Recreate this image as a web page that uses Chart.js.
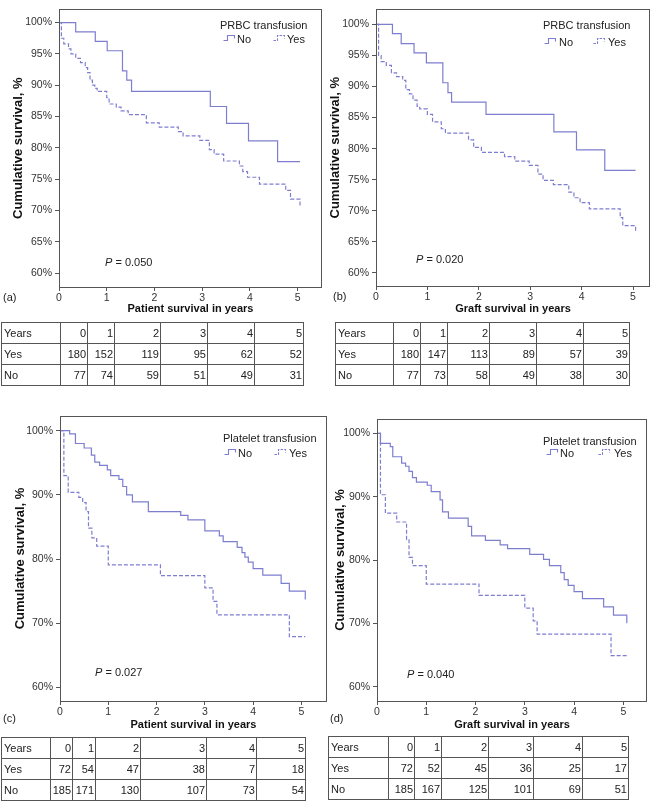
<!DOCTYPE html>
<html><head><meta charset="utf-8">
<script src="https://cdn.jsdelivr.net/npm/chart.js@4/dist/chart.umd.min.js"></script>
<style>
body{margin:0;background:#fff;}
#fig{position:relative;width:655px;height:802px;overflow:hidden;font-family:"Liberation Sans",Arial,sans-serif;color:#222;background:#fff;}
canvas{position:absolute;}
.t{position:absolute;font-size:11px;line-height:12px;white-space:nowrap;color:#222;}
svg.g{position:absolute;}
table{position:absolute;border-collapse:collapse;table-layout:fixed;font-size:11px;color:#222;}
td{border:1px solid #555;padding:0 1px 0 1px;height:20px;text-align:right;overflow:visible;white-space:nowrap;}
td:first-child{text-align:left;padding-left:2px;}
</style>
</head><body>
<div id="fig">
<canvas id="cA" width="326" height="316" style="left:0;top:0"></canvas>
<canvas id="cB" width="330" height="316" style="left:325px;top:0"></canvas>
<canvas id="cC" width="330" height="332" style="left:0;top:400px"></canvas>
<canvas id="cD" width="330" height="332" style="left:325px;top:400px"></canvas>
</div>
<script>
// ---------- data ----------
const xTicks = [0, 1, 2, 3, 4, 5];
const yTicksAB = [60, 65, 70, 75, 80, 85, 90, 95, 100];
const yTicksCD = [60, 70, 80, 90, 100];
const seriesNames = ['No', 'Yes'];
const tableYears = ['0', '1', '2', '3', '4', '5'];

// (a) PRBC transfusion, patient survival
const aNoT  = [0, 0.35, 0.76, 1.01, 1.33, 1.42, 1.52, 3.17, 3.51, 3.97, 4.58, 5.05];
const aNoS  = [100, 98.5, 97.0, 95.5, 92.3, 90.8, 89.0, 86.6, 83.9, 81.1, 77.8, 77.8];
const aYesT = [0, 0.05, 0.1, 0.2, 0.25, 0.35, 0.45, 0.55, 0.6, 0.65, 0.7, 0.75, 0.8, 1.0, 1.05, 1.2, 1.3, 1.45, 1.83, 2.1, 2.5, 2.6, 2.95, 3.15, 3.25, 3.45, 3.78, 3.85, 3.95, 4.2, 4.75, 4.85, 5.05];
const aYesS = [100, 97.5, 96.6, 95.8, 95.0, 94.3, 93.6, 92.8, 92.0, 90.8, 90.0, 89.5, 89.0, 88.0, 87.0, 86.5, 85.9, 85.3, 84.0, 83.3, 82.6, 81.9, 81.2, 79.7, 79.0, 77.9, 77.1, 76.2, 75.3, 74.2, 73.2, 71.8, 70.5];
const aRiskYes = [180, 152, 119, 95, 62, 52];
const aRiskNo  = [77, 74, 59, 51, 49, 31];

// (b) PRBC transfusion, graft survival
const bNoT  = [0, 0.32, 0.49, 0.74, 0.98, 1.30, 1.40, 1.47, 2.14, 3.46, 3.9, 4.45, 5.05];
const bNoS  = [100, 98.5, 96.9, 95.4, 93.8, 90.6, 89.0, 87.5, 85.5, 82.7, 79.8, 76.5, 76.5];
const bYesT = [0, 0.05, 0.1, 0.2, 0.3, 0.4, 0.52, 0.58, 0.65, 0.72, 0.8, 0.85, 1.0, 1.1, 1.27, 1.35, 1.8, 1.9, 2.05, 2.5, 2.7, 2.98, 3.15, 3.25, 3.45, 3.75, 3.85, 3.97, 4.15, 4.75, 4.8, 5.05];
const bYesS = [100, 95.0, 94.0, 93.4, 92.2, 91.6, 91.0, 89.5, 88.8, 87.8, 86.8, 86.4, 85.5, 84.3, 83.2, 82.5, 81.4, 80.2, 79.4, 78.7, 78.0, 77.3, 75.9, 74.9, 74.2, 73.0, 72.1, 71.3, 70.3, 68.9, 67.6, 66.5];
const bRiskYes = [180, 147, 113, 89, 57, 39];
const bRiskNo  = [77, 73, 58, 49, 38, 30];

// (c) Platelet transfusion, patient survival
const cNoT  = [0, 0.2, 0.32, 0.5, 0.65, 0.72, 0.82, 0.98, 1.05, 1.22, 1.3, 1.38, 1.5, 1.83, 2.5, 2.65, 3.0, 3.3, 3.38, 3.67, 3.77, 3.83, 3.9, 4.0, 4.2, 4.58, 4.75, 5.08];
const cNoS  = [100, 99.5, 98.0, 97.3, 96.2, 95.1, 94.6, 93.9, 93.0, 92.4, 91.3, 90.0, 88.9, 87.4, 86.8, 86.1, 84.4, 83.6, 82.7, 81.8, 81.0, 80.3, 79.5, 78.5, 77.5, 76.2, 75.0, 73.7];
const cYesT = [0, 0.08, 0.17, 0.39, 0.47, 0.54, 0.59, 0.66, 0.76, 1.0, 2.08, 3.0, 3.17, 3.25, 4.75, 5.08];
const cYesS = [100, 93.0, 90.4, 89.6, 88.8, 87.4, 84.8, 83.3, 82.0, 79.1, 77.4, 75.5, 73.4, 71.3, 67.9, 67.9];
const cRiskYes = [72, 54, 47, 38, 7, 18];
const cRiskNo  = [185, 171, 130, 107, 73, 54];

// (d) Platelet transfusion, graft survival
const dNoT  = [0, 0.07, 0.27, 0.32, 0.5, 0.58, 0.65, 0.72, 0.8, 1.02, 1.1, 1.28, 1.33, 1.45, 1.85, 1.92, 2.2, 2.5, 2.65, 3.1, 3.38, 3.5, 3.73, 3.8, 3.88, 4.0, 4.17, 4.6, 4.8, 5.07];
const dNoS  = [100, 98.4, 97.9, 96.3, 95.3, 94.8, 94.0, 93.0, 92.3, 91.8, 90.8, 89.5, 87.6, 86.6, 85.3, 83.8, 83.1, 82.4, 81.8, 80.9, 80.1, 79.1, 78.0, 76.9, 76.0, 75.0, 73.9, 72.6, 71.3, 70.0];
const dYesT = [0, 0.07, 0.17, 0.4, 0.6, 0.65, 0.72, 1.0, 2.07, 3.0, 3.17, 3.25, 4.75, 5.07];
const dYesS = [100, 90.3, 87.4, 86.0, 83.2, 80.4, 79.1, 76.2, 74.4, 72.4, 70.4, 68.3, 64.9, 64.9];
const dRiskYes = [72, 52, 45, 36, 25, 17];
const dRiskNo  = [185, 167, 125, 101, 69, 51];

// ---------- rendering ----------
const FF = '"Liberation Sans", Arial, sans-serif';
const COL = 'rgb(126,126,208)';
const fig = document.getElementById('fig');

const boxPlugin = {
  id: 'box',
  afterDraw(chart) {
    const a = chart.chartArea, ctx = chart.ctx;
    ctx.save();
    ctx.strokeStyle = '#555'; ctx.lineWidth = 1;
    ctx.strokeRect(Math.round(a.left) + 0.5, Math.round(a.top) + 0.5, Math.round(a.right - a.left) - 1, Math.round(a.bottom - a.top));
    ctx.restore();
  }
};

function pts(T, S) { return T.map((t, i) => ({ x: t, y: S[i] })); }

function km(id, P) {
  new Chart(document.getElementById(id), {
    type: 'line',
    data: { datasets: [
      { label: seriesNames[0], data: pts(P.noT, P.noS), stepped: 'before', borderColor: COL, borderWidth: 1.2, pointRadius: 0, fill: false },
      { label: seriesNames[1], data: pts(P.yesT, P.yesS), stepped: 'before', borderColor: COL, borderWidth: 1.2, borderDash: [4, 2], pointRadius: 0, fill: false }
    ]},
    options: {
      responsive: false, animation: false, devicePixelRatio: 1,
      layout: { padding: { top: P.padTop, right: P.padRight, left: 0, bottom: 0 } },
      plugins: { legend: { display: false }, tooltip: { enabled: false } },
      scales: {
        x: {
          type: 'linear', min: 0, max: P.xMax,
          afterBuildTicks: s => { s.ticks = xTicks.map(v => ({ value: v })); },
          afterFit: s => { s.height = P.xH; },
          border: { display: false },
          grid: { drawOnChartArea: false, tickLength: 4, color: '#555' },
          ticks: { font: { size: 10.5, family: FF }, color: '#333', padding: 1, maxRotation: 0 },
          title: { display: true, text: P.xTitle, font: { size: 11, weight: 'bold', family: FF }, color: '#111', padding: 0 }
        },
        y: {
          type: 'linear', min: P.yMin, max: P.yMax,
          afterBuildTicks: s => { s.ticks = P.yTicks.map(v => ({ value: v })); },
          afterFit: s => { s.width = P.yW; },
          border: { display: false },
          grid: { drawOnChartArea: false, tickLength: 4, color: '#555' },
          ticks: { font: { size: 10.5, family: FF }, color: '#333', padding: 3, callback: v => v + '%' },
          title: { display: true, text: 'Cumulative survival, %', font: { size: 13, weight: 'bold', family: FF }, color: '#111', padding: { top: P.yTitlePad, bottom: 0 } }
        }
      }
    },
    plugins: [boxPlugin]
  });
}

km('cA', { noT: aNoT, noS: aNoS, yesT: aYesT, yesS: aYesS, xMax: 5.51, yMin: 57.78, yMax: 102.12, yTicks: yTicksAB,
  padTop: 1, padRight: 4, yW: 59, xH: 29, yTitlePad: 10.2, xTitle: 'Patient survival in years' });
km('cB', { noT: bNoT, noS: bNoS, yesT: bYesT, yesS: bYesS, xMax: 5.33, yMin: 57.9, yMax: 102.42, yTicks: yTicksAB,
  padTop: 4, padRight: 5, yW: 51, xH: 30, yTitlePad: 2.2, xTitle: 'Graft survival in years' });
km('cC', { noT: cNoT, noS: cNoS, yesT: cYesT, yesS: cYesS, xMax: 5.53, yMin: 57.87, yMax: 102.29, yTicks: yTicksCD,
  padTop: 16, padRight: 3, yW: 60, xH: 31, yTitlePad: 12.5, xTitle: 'Patient survival in years' });
km('cD', { noT: dNoT, noS: dNoS, yesT: dYesT, yesS: dYesS, xMax: 5.48, yMin: 57.74, yMax: 102.26, yTicks: yTicksCD,
  padTop: 19, padRight: 8, yW: 52, xH: 31, yTitlePad: 7.5, xTitle: 'Graft survival in years' });

// text overlays
function txt(html, left, top, extra) {
  const d = document.createElement('div');
  d.className = 't'; d.innerHTML = html;
  d.style.left = left + 'px'; d.style.top = top + 'px';
  if (extra) Object.assign(d.style, extra);
  fig.appendChild(d);
}
function glyph(left, top, dashed) {
  const ns = 'http://www.w3.org/2000/svg';
  const s = document.createElementNS(ns, 'svg');
  s.setAttribute('class', 'g'); s.setAttribute('width', '13'); s.setAttribute('height', '8');
  s.style.left = left + 'px'; s.style.top = top + 'px';
  const p = document.createElementNS(ns, 'path');
  p.setAttribute('d', 'M0.5,6.5 H4.5 V1.5 H11.5 V4.5');
  p.setAttribute('fill', 'none'); p.setAttribute('stroke', COL); p.setAttribute('stroke-width', '1.1');
  if (dashed) p.setAttribute('stroke-dasharray', '2.5,1.2');
  s.appendChild(p); fig.appendChild(s);
}
function legend(title, x, y, gNo, tNo, gYes, tYes, ry) {
  txt(title, x, y);
  glyph(gNo, ry + 1, false); txt(seriesNames[0], tNo, ry);
  glyph(gYes, ry + 1, true); txt(seriesNames[1], tYes, ry);
}
legend('PRBC transfusion', 220, 19, 223, 237, 273, 287, 33);
legend('PRBC transfusion', 543, 19, 544, 559, 593, 608, 36);
legend('Platelet transfusion', 223, 432, 224, 238, 274, 289, 447);
legend('Platelet transfusion', 543, 435, 546, 560, 598, 614, 447);

txt('<i>P</i> = 0.050', 105, 256);
txt('<i>P</i> = 0.020', 416, 253);
txt('<i>P</i> = 0.027', 95, 666);
txt('<i>P</i> = 0.040', 407, 668);

txt('(a)', 3, 291); txt('(b)', 333, 290); txt('(c)', 3, 712); txt('(d)', 330, 712);

// risk tables
function riskTable(left, top, widths, yes, no) {
  const t = document.createElement('table');
  t.style.left = left + 'px'; t.style.top = top + 'px';
  const w = widths.reduce((a, b) => a + b, 0);
  t.style.width = w + 'px';
  const cg = document.createElement('colgroup');
  widths.forEach(x => { const c = document.createElement('col'); c.style.width = x + 'px'; cg.appendChild(c); });
  t.appendChild(cg);
  const rows = [['Years'].concat(tableYears), ['Yes'].concat(yes), ['No'].concat(no)];
  rows.forEach(r => {
    const tr = document.createElement('tr');
    r.forEach(v => { const td = document.createElement('td'); td.textContent = v; tr.appendChild(td); });
    t.appendChild(tr);
  });
  fig.appendChild(t);
}
riskTable(1, 322, [59, 27, 27, 46, 47, 47, 49], aRiskYes, aRiskNo);
riskTable(335, 322, [58, 27, 27, 42, 47, 47, 46], bRiskYes, bRiskNo);
riskTable(1, 737, [49, 22, 23, 45, 66, 50, 49], cRiskYes, cRiskNo);
riskTable(328, 736, [60, 26, 27, 47, 45, 49, 46], dRiskYes, dRiskNo);
</script>
</body></html>
